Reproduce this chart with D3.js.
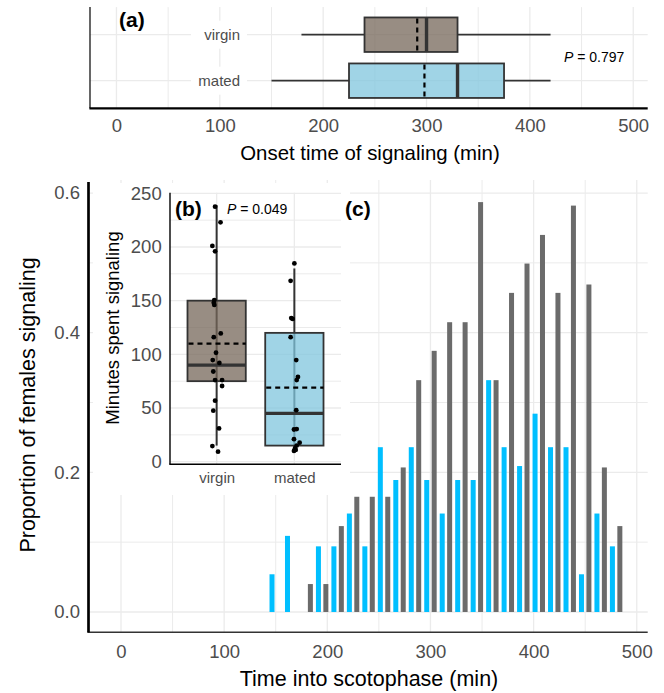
<!DOCTYPE html>
<html>
<head>
<meta charset="utf-8">
<script src="https://cdn.jsdelivr.net/npm/d3@7"></script>
<style>
  body { margin: 0; background: #fff; }
  svg { display: block; font-family: "Liberation Sans", Arial, sans-serif; }
  .tick text { fill: #4d4d4d; }
</style>
</head>
<body>
<svg id="chart"></svg>
<script>
const width = 664, height = 693;

// ---- data ----
const groups = ['virgin', 'mated'];
const groupFill = ['#75675a', '#80c6de'];

// (a) onset time of signaling, box stats per group
const onsetLow = [179, 150];
const onsetQ1 = [240, 225];
const onsetMedian = [300, 330];
const onsetQ3 = [330, 375];
const onsetHigh = [420, 420];
const onsetMean = [291, 298];
const onsetP = '0.797';

// (b) minutes spent signaling
const minutesLow = [15, 10];
const minutesQ1 = [75, 15];
const minutesMedian = [90, 45];
const minutesQ3 = [150, 120];
const minutesHigh = [239, 180];
const minutesMean = [110, 69];
const minutesP = '0.049';
const virginMinutes = [237.5, 223, 201, 196, 150.5, 148, 146, 119.5, 116, 101.5, 94.7, 92, 84, 76, 76, 70.5, 56.8, 47.5, 31, 14.6, 9.3];
const virginJitter = [-0.02, 0.05, -0.055, -0.02, -0.03, -0.037, -0.03, 0.053, -0.037, -0.008, -0.05, 0.035, -0.043, -0.02, 0.07, 0.07, -0.02, -0.043, 0.031, -0.055, 0.018];
const matedMinutes = [184.7, 168.5, 133.8, 133, 116, 94.7, 79, 76, 48, 30, 30.4, 21, 17.7, 15, 12.4, 10, 11];
const matedJitter = [0, -0.048, -0.04, -0.022, -0.048, 0.024, 0.046, 0.03, 0.024, -0.005, 0.03, -0.005, 0.068, 0.03, 0.008, -0.005, 0.017];

// (c) proportion of females signaling over time
const times = [150, 165, 180, 195, 210, 225, 240, 255, 270, 285, 300, 315, 330, 345, 360, 375, 390, 405, 420, 435, 450, 465, 480];
const propMated = [0.054, 0.109, 0, 0.094, 0.094, 0.141, 0.094, 0.236, 0.189, 0.236, 0.189, 0.141, 0.189, 0.189, 0.332, 0.236, 0.209, 0.284, 0.236, 0.236, 0.054, 0.141, 0.094];
const propVirgin = [0, 0, 0.04, 0.04, 0.123, 0.165, 0.165, 0.165, 0.207, 0.332, 0.374, 0.415, 0.415, 0.587, 0.332, 0.457, 0.499, 0.540, 0.457, 0.582, 0.469, 0.207, 0.123];

const timeTicks = [0, 100, 200, 300, 400, 500];
const timeMinor = [50, 150, 250, 350, 450];
const propTicks = [0, 0.2, 0.4, 0.6];
const propMinor = [0.1, 0.3, 0.5];
const minutesTicks = [0, 50, 100, 150, 200, 250];
const minutesMinor = [25, 75, 125, 175, 225];

const svg = d3.select('#chart').attr('width', width).attr('height', height);
svg.append('rect').attr('width', width).attr('height', height).attr('fill', '#fff');

const boxCol = '#333333';
const fontFam = 'Liberation Sans, Arial, sans-serif';

function gridV(g, xs, y0, y1, w) {
  g.selectAll(null).data(xs).enter().append('line')
    .attr('x1', d => d).attr('x2', d => d).attr('y1', y0).attr('y2', y1)
    .attr('stroke', '#ebebeb').attr('stroke-width', w);
}
function gridH(g, ys, x0, x1, w) {
  g.selectAll(null).data(ys).enter().append('line')
    .attr('y1', d => d).attr('y2', d => d).attr('x1', x0).attr('x2', x1)
    .attr('stroke', '#ebebeb').attr('stroke-width', w);
}

// ================= (a) =================
const xA = d3.scaleLinear().domain([-25.6, 514]).range([90, 647.7]);
const yA = d3.scalePoint().domain(['mated', 'virgin']).range([108.3, 7.1]).padding(0.6);
const gA = svg.append('g');

gridV(gA, timeMinor.map(xA), 7.1, 108.3, 1);
gridV(gA, timeTicks.map(xA), 7.1, 108.3, 1.3);
gridH(gA, groups.map(yA), 90, 647.7, 1.3);

// category labels with white background
groups.forEach(gname => {
  const y = yA(gname);
  gA.append('rect').attr('x', 191).attr('y', y - 14).attr('width', 56).attr('height', 28).attr('fill', '#fff');
  gA.append('text').attr('x', 240).attr('y', y).attr('dy', '0.35em')
    .attr('text-anchor', 'end').attr('font-size', 15).attr('fill', '#4d4d4d').text(gname);
});

const bhA = 0.75 * 46;
groups.forEach((gname, i) => {
  const y = yA(gname);
  gA.append('line').attr('x1', xA(onsetLow[i])).attr('x2', xA(onsetQ1[i])).attr('y1', y).attr('y2', y)
    .attr('stroke', boxCol).attr('stroke-width', 1.8);
  gA.append('line').attr('x1', xA(onsetQ3[i])).attr('x2', xA(onsetHigh[i])).attr('y1', y).attr('y2', y)
    .attr('stroke', boxCol).attr('stroke-width', 1.8);
  gA.append('rect').attr('x', xA(onsetQ1[i])).attr('y', y - bhA / 2)
    .attr('width', xA(onsetQ3[i]) - xA(onsetQ1[i])).attr('height', bhA)
    .attr('fill', groupFill[i]).attr('fill-opacity', 0.75)
    .attr('stroke', boxCol).attr('stroke-width', 1.8);
  gA.append('line').attr('x1', xA(onsetMedian[i])).attr('x2', xA(onsetMedian[i]))
    .attr('y1', y - bhA / 2).attr('y2', y + bhA / 2).attr('stroke', boxCol).attr('stroke-width', 3.4);
  gA.append('line').attr('x1', xA(onsetMean[i])).attr('x2', xA(onsetMean[i]))
    .attr('y1', y - bhA / 2 + 1).attr('y2', y + bhA / 2).attr('stroke', '#000').attr('stroke-width', 2.2)
    .attr('stroke-dasharray', '5,4');
});

gA.append('line').attr('x1', 90).attr('x2', 90).attr('y1', 7.1).attr('y2', 108.3).attr('stroke', '#000').attr('stroke-width', 1.2);
gA.append('line').attr('x1', 89.4).attr('x2', 647.7).attr('y1', 108.3).attr('y2', 108.3).attr('stroke', '#000').attr('stroke-width', 2.2);

gA.append('g').attr('transform', 'translate(0,108.3)')
  .call(d3.axisBottom(xA).tickValues(timeTicks).tickSize(0).tickPadding(10.2))
  .call(g => g.select('.domain').remove())
  .selectAll('text').attr('font-size', 18.5).attr('font-family', fontFam);

gA.append('text').attr('x', 370).attr('y', 160).attr('text-anchor', 'middle')
  .attr('font-size', 20.4).attr('fill', '#000').text('Onset time of signaling (min)');
gA.append('text').attr('x', 119).attr('y', 27).attr('font-size', 21).attr('font-weight', 'bold').text('(a)');
const pA = gA.append('text').attr('x', 564).attr('y', 62).attr('font-size', 14);
pA.append('tspan').attr('font-style', 'italic').text('P');
pA.append('tspan').text(' =  ' + onsetP);

// ================= (c) =================
const xC = d3.scaleLinear().domain([-31.5, 510.6]).range([88.5, 647.7]);
const yC = d3.scaleLinear().domain([-0.0291, 0.6158]).range([632.3, 182]);
const gC = svg.append('g');

gridV(gC, timeMinor.map(xC), 180, 632.3, 1);
gridV(gC, timeTicks.map(xC), 180, 632.3, 1.3);
gridH(gC, propMinor.map(yC), 88.5, 647.7, 1);
gridH(gC, propTicks.map(yC), 88.5, 647.7, 1.3);

const barW = 4.85, dodge = 3.6;
gC.selectAll('.bar-mated').data(times.map((t, i) => ({ t, v: propMated[i] })).filter(d => d.v > 0))
  .enter().append('rect').attr('class', 'bar-mated')
  .attr('x', d => xC(d.t - dodge - barW / 2)).attr('width', xC(barW) - xC(0))
  .attr('y', d => yC(d.v)).attr('height', d => yC(0) - yC(d.v))
  .attr('fill', '#00bfff');
gC.selectAll('.bar-virgin').data(times.map((t, i) => ({ t, v: propVirgin[i] })).filter(d => d.v > 0))
  .enter().append('rect').attr('class', 'bar-virgin')
  .attr('x', d => xC(d.t + dodge - barW / 2)).attr('width', xC(barW) - xC(0))
  .attr('y', d => yC(d.v)).attr('height', d => yC(0) - yC(d.v))
  .attr('fill', '#6b6b6b');

gC.append('line').attr('x1', 87.4).attr('x2', 647.7).attr('y1', 632.3).attr('y2', 632.3).attr('stroke', '#333').attr('stroke-width', 1.4);

gC.append('g').attr('transform', 'translate(0,632.3)')
  .call(d3.axisBottom(xC).tickValues(timeTicks).tickSize(0).tickPadding(12.2))
  .call(g => g.select('.domain').remove())
  .selectAll('text').attr('font-size', 18.5).attr('font-family', fontFam);
gC.append('g').attr('transform', 'translate(88.5,0)')
  .call(d3.axisLeft(yC).tickValues(propTicks).tickFormat(d3.format('.1f')).tickSize(0).tickPadding(8.5))
  .call(g => g.select('.domain').remove())
  .selectAll('text').attr('font-size', 18.5).attr('font-family', fontFam);

gC.append('text').attr('x', 369).attr('y', 686).attr('text-anchor', 'middle')
  .attr('font-size', 21.5).attr('fill', '#000').text('Time into scotophase (min)');
gC.append('text').attr('transform', 'translate(27,405) rotate(-90)').attr('dy', '0.35em')
  .attr('text-anchor', 'middle').attr('font-size', 21.5).attr('fill', '#000').text('Proportion of females signaling');

// ================= (b) inset =================
const xB = d3.scalePoint().domain(groups).range([170, 341]).padding(0.6);
const yB = d3.scaleLinear().domain([-2.42, 250.56]).range([464.3, 192.7]);
const stepB = xB.step();
const gB = svg.append('g');

gB.append('rect').attr('x', 93).attr('y', 183).attr('width', 257).attr('height', 312).attr('fill', '#fff');
gridH(gB, minutesMinor.map(yB), 170, 341, 1);
gridH(gB, minutesTicks.map(yB), 170, 341, 1.3);
gridV(gB, groups.map(xB), 192.7, 464.3, 1.3);

const bwB = 0.75 * stepB;
groups.forEach((gname, i) => {
  const x = xB(gname);
  gB.append('line').attr('x1', x).attr('x2', x).attr('y1', yB(minutesLow[i])).attr('y2', yB(minutesHigh[i]))
    .attr('stroke', boxCol).attr('stroke-width', 2);
  gB.append('rect').attr('x', x - bwB / 2).attr('y', yB(minutesQ3[i]))
    .attr('width', bwB).attr('height', yB(minutesQ1[i]) - yB(minutesQ3[i]))
    .attr('fill', groupFill[i]).attr('fill-opacity', 0.75)
    .attr('stroke', boxCol).attr('stroke-width', 1.8);
  gB.append('line').attr('x1', x - bwB / 2).attr('x2', x + bwB / 2)
    .attr('y1', yB(minutesMedian[i])).attr('y2', yB(minutesMedian[i]))
    .attr('stroke', boxCol).attr('stroke-width', 3.4);
  gB.append('line').attr('x1', x - bwB / 2 + 1).attr('x2', x + bwB / 2)
    .attr('y1', yB(minutesMean[i])).attr('y2', yB(minutesMean[i]))
    .attr('stroke', '#000').attr('stroke-width', 2.2).attr('stroke-dasharray', '5,4');
});

const pts = virginMinutes.map((v, i) => ({ g: 'virgin', v, j: virginJitter[i] }))
  .concat(matedMinutes.map((v, i) => ({ g: 'mated', v, j: matedJitter[i] })));
gB.selectAll('.pt').data(pts).enter().append('circle').attr('class', 'pt')
  .attr('cx', d => xB(d.g) + d.j * stepB).attr('cy', d => yB(d.v)).attr('r', 2.4).attr('fill', '#000');

gB.append('line').attr('x1', 170).attr('x2', 170).attr('y1', 192.7).attr('y2', 464.3).attr('stroke', '#000').attr('stroke-width', 1.4);
gB.append('line').attr('x1', 169.3).attr('x2', 341).attr('y1', 464.3).attr('y2', 464.3).attr('stroke', '#000').attr('stroke-width', 1.4);

gB.append('g').attr('transform', 'translate(170,0)')
  .call(d3.axisLeft(yB).tickValues(minutesTicks).tickSize(0).tickPadding(8.3))
  .call(g => g.select('.domain').remove())
  .selectAll('text').attr('font-size', 18.5).attr('font-family', fontFam);
gB.append('g').attr('transform', 'translate(0,464.3)')
  .call(d3.axisBottom(xB).tickSize(0).tickPadding(8))
  .call(g => g.select('.domain').remove())
  .selectAll('text').attr('font-size', 15).attr('font-family', fontFam);

gB.append('text').attr('transform', 'translate(113,328) rotate(-90)').attr('dy', '0.35em')
  .attr('text-anchor', 'middle').attr('font-size', 18.5).attr('fill', '#000').text('Minutes spent signaling');
gB.append('text').attr('x', 175).attr('y', 216).attr('font-size', 21).attr('font-weight', 'bold').text('(b)');
const pB = gB.append('text').attr('x', 227).attr('y', 214).attr('font-size', 14);
pB.append('tspan').attr('font-style', 'italic').text('P');
pB.append('tspan').text(' =  ' + minutesP);

// panel (c) tag sits above the inset background; left y axis line too
gC.append('line').attr('x1', 88.5).attr('x2', 88.5).attr('y1', 182).attr('y2', 632.3).attr('stroke', '#000').attr('stroke-width', 2.2);
svg.append('line').attr('x1', 88.5).attr('x2', 88.5).attr('y1', 182).attr('y2', 632.3).attr('stroke', '#000').attr('stroke-width', 2.2);
svg.append('text').attr('x', 345).attr('y', 216).attr('font-size', 21).attr('font-weight', 'bold').text('(c)');
</script>
</body>
</html>
